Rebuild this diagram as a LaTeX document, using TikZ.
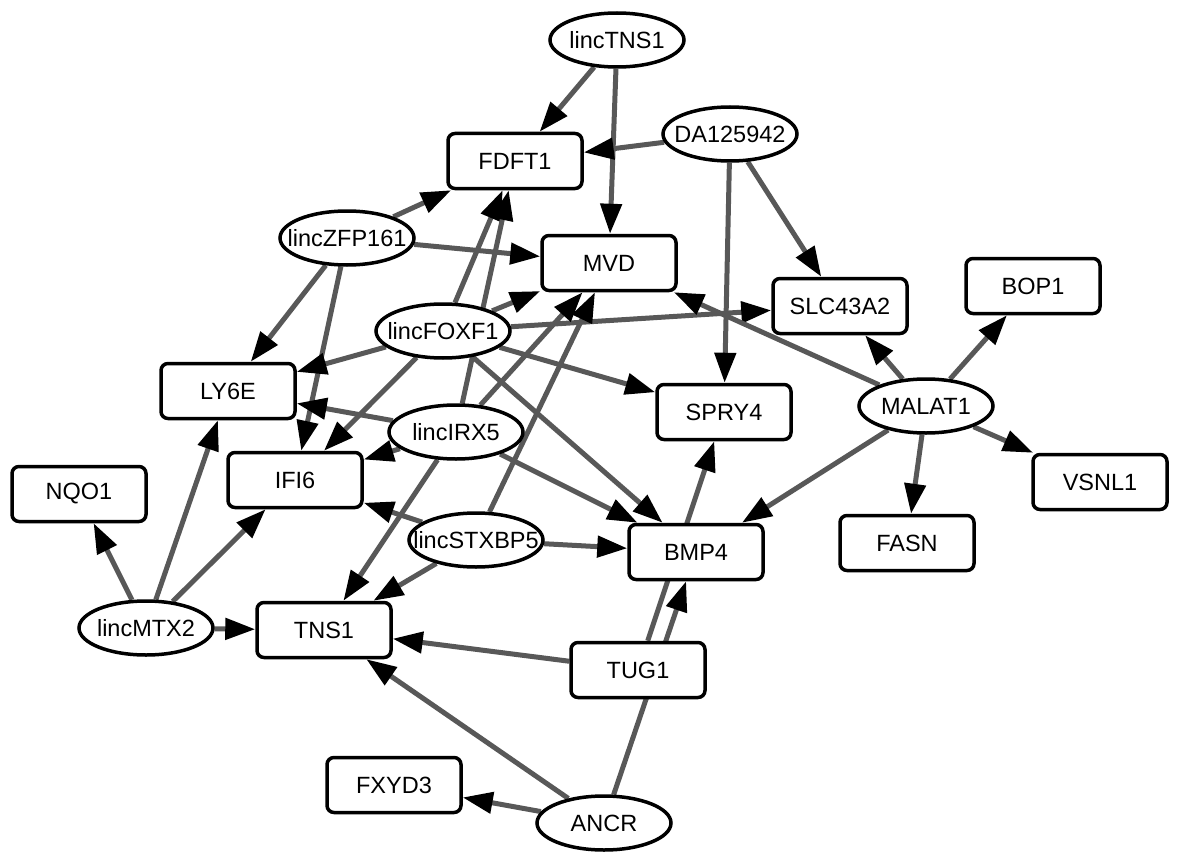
\documentclass[tikz,border=0pt]{standalone}
\usepackage{fontspec}
\setmainfont{Liberation Sans}
\usetikzlibrary{arrows.meta,shapes.geometric,backgrounds}
\definecolor{edgegray}{RGB}{88,88,88}
\tikzset{
  gene/.style={draw=black, line width=3.5pt, rounded corners=7pt, fill=white,
    minimum width=134pt, minimum height=55pt, inner sep=0pt,
    font=\fontsize{23.5}{28}\selectfont},
  lnc/.style={ellipse, draw=black, line width=3.5pt, fill=white,
    minimum width=134pt, minimum height=54pt, inner xsep=-20pt, inner ysep=0pt,
    font=\fontsize{23.5}{28}\selectfont},
  edge/.style={draw=edgegray, line width=5pt,
    -{Triangle[length=30pt,width=21pt,color=black]}}
}
\begin{document}
\begin{tikzpicture}[x=1pt,y=-1pt]
\useasboundingbox (0,0) rectangle (1181,864);
% lncRNA ellipses
\node[lnc] (lincTNS1) at (617,40) {lincTNS1};
\node[lnc] (DA) at (730,134) {DA125942};
\node[lnc] (ZFP) at (347,238) {lincZFP161};
\node[lnc] (FOXF1) at (443,331) {lincFOXF1};
\node[lnc] (IRX5) at (456,432) {lincIRX5};
\node[lnc] (STXBP5) at (476,540) {lincSTXBP5};
\node[lnc] (MTX2) at (146,628) {lincMTX2};
\node[lnc] (MALAT1) at (926,406) {MALAT1};
\node[lnc] (ANCR) at (604,823) {ANCR};
% gene boxes
\node[gene] (FDFT1) at (515,161) {FDFT1};
\node[gene] (MVD) at (609,263) {MVD};
\node[gene] (SLC) at (840,306) {SLC43A2};
\node[gene] (BOP1) at (1033,286) {BOP1};
\node[gene] (SPRY4) at (724,412) {SPRY4};
\node[gene] (VSNL1) at (1100,482) {VSNL1};
\node[gene] (FASN) at (907,543) {FASN};
\node[gene] (LY6E) at (228,391) {LY6E};
\node[gene] (IFI6) at (295,480) {IFI6};
\node[gene] (NQO1) at (79,494) {NQO1};
\node[gene] (TNS1) at (324,630) {TNS1};
\node[gene] (BMP4) at (696,552) {BMP4};
\node[gene] (TUG1) at (638,670) {TUG1};
\node[gene] (FXYD3) at (394,785) {FXYD3};
\begin{scope}[on background layer]
\draw[edge] (lincTNS1) -- (FDFT1);
\draw[edge] (lincTNS1) -- (MVD);
\draw[edge] (DA) -- (FDFT1);
\draw[edge] (DA) -- (SLC);
\draw[edge] (DA) -- (SPRY4);
\draw[edge] (ZFP) -- (FDFT1);
\draw[edge] (ZFP) -- (MVD);
\draw[edge] (ZFP) -- (LY6E);
\draw[edge] (ZFP) -- (IFI6);
\draw[edge] (FOXF1) -- (FDFT1);
\draw[edge] (FOXF1) -- (MVD);
\draw[edge] (FOXF1) -- (SLC);
\draw[edge] (FOXF1) -- (LY6E);
\draw[edge] (FOXF1) -- (IFI6);
\draw[edge] (FOXF1) -- (SPRY4);
\draw[edge] (FOXF1) -- (BMP4);
\draw[edge] (IRX5) -- (FDFT1);
\draw[edge] (IRX5) -- (MVD);
\draw[edge] (IRX5) -- (LY6E);
\draw[edge] (IRX5) -- (IFI6);
\draw[edge] (IRX5) -- (BMP4);
\draw[edge] (IRX5) -- (TNS1);
\draw[edge] (STXBP5) -- (MVD);
\draw[edge] (STXBP5) -- (IFI6);
\draw[edge] (STXBP5) -- (BMP4);
\draw[edge] (STXBP5) -- (TNS1);
\draw[edge] (MALAT1) -- (MVD);
\draw[edge] (MALAT1) -- (SLC);
\draw[edge] (MALAT1) -- (BOP1);
\draw[edge] (MALAT1) -- (VSNL1);
\draw[edge] (MALAT1) -- (FASN);
\draw[edge] (MALAT1) -- (BMP4);
\draw[edge] (MTX2) -- (NQO1);
\draw[edge] (MTX2) -- (LY6E);
\draw[edge] (MTX2) -- (IFI6);
\draw[edge] (MTX2) -- (TNS1);
\draw[edge] (TUG1) -- (TNS1);
\draw[edge] (TUG1) -- (SPRY4);
\draw[edge] (ANCR) -- (BMP4);
\draw[edge] (ANCR) -- (TNS1);
\draw[edge] (ANCR) -- (FXYD3);
\end{scope}
\end{tikzpicture}
\end{document}
